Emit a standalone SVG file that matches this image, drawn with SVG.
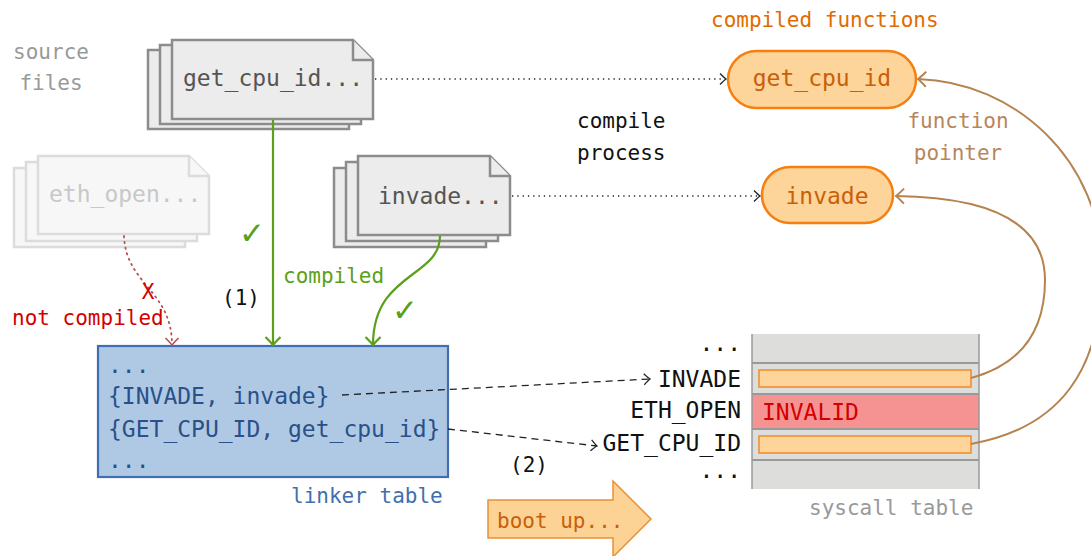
<svg xmlns="http://www.w3.org/2000/svg" width="1091" height="556" viewBox="0 0 1091 556">
  <style>
    text { font-family: "DejaVu Sans Mono", "Liberation Mono", monospace; }
    .big { font-size: 23px; }
    .small { font-size: 21px; }
    .tick { font-family: "DejaVu Sans", sans-serif; font-size: 31px; fill: #5b9f1a; }
    .sheet { fill: #ececec; stroke: #8c8c8c; stroke-width: 2.5; stroke-linejoin: miter; }
    .sheet-faint { fill: #f7f7f7; stroke: #dcdcdc; stroke-width: 2.5; }
    .pill { fill: #fdd49a; stroke: #f57f0f; stroke-width: 2.5; }
    .slot { fill: #fdd49a; stroke: #f08a2a; stroke-width: 1.5; }
    .dotted { fill: none; stroke: #222; stroke-width: 1.3; stroke-dasharray: 1.3 4; }
    .dashed { fill: none; stroke: #222; stroke-width: 1.3; stroke-dasharray: 7 5; }
    .green { fill: none; stroke: #5b9f1a; stroke-width: 2.2; }
    .brown { fill: none; stroke: #b5834f; stroke-width: 2; }
  </style>
  <defs>
    <marker id="tip-black" markerUnits="userSpaceOnUse" markerWidth="14" markerHeight="14" refX="0" refY="0" viewBox="-8 -7 10 14" orient="auto">
      <path d="M-6,-5.5 Q-1.5,-1 0,0 Q-1.5,1 -6,5.5" fill="none" stroke="#222" stroke-width="1.3"/>
    </marker>
    <marker id="tip-green" markerUnits="userSpaceOnUse" markerWidth="18" markerHeight="18" refX="0" refY="0" viewBox="-10 -9 12 18" orient="auto">
      <path d="M-8,-7.5 Q-2,-1.5 0,0 Q-2,1.5 -8,7.5" fill="none" stroke="#5b9f1a" stroke-width="2.2"/>
    </marker>
    <marker id="tip-red" markerUnits="userSpaceOnUse" markerWidth="18" markerHeight="18" refX="0" refY="0" viewBox="-10 -9 12 18" orient="auto">
      <path d="M-7,-6.5 Q-2,-1.5 0,0 Q-2,1.5 -7,6.5" fill="none" stroke="#b85050" stroke-width="1.6"/>
    </marker>
    <marker id="tip-brown" markerUnits="userSpaceOnUse" markerWidth="18" markerHeight="18" refX="0" refY="0" viewBox="-10 -9 12 18" orient="auto">
      <path d="M-8,-7.5 Q-2,-1.5 0,0 Q-2,1.5 -8,7.5" fill="none" stroke="#b5834f" stroke-width="2"/>
    </marker>
  </defs>

  <!-- side captions -->
  <text class="small" x="51" y="59" text-anchor="middle" fill="#999">source</text>
  <text class="small" x="51" y="90" text-anchor="middle" fill="#999">files</text>
  <text class="small" x="577" y="128" fill="#111">compile</text>
  <text class="small" x="577" y="160" fill="#111">process</text>
  <text class="small" x="711" y="27" fill="#e06c00">compiled functions</text>
  <text class="small" x="958" y="128" text-anchor="middle" fill="#b8865a">function</text>
  <text class="small" x="958" y="160" text-anchor="middle" fill="#b8865a">pointer</text>

  <!-- source file: get_cpu_id -->
  <g id="src-get-cpu-id">
    <path class="sheet" d="M148,50 H329 L349,70 V129 H148 Z"/>
    <path class="sheet" d="M160,45 H341 L361,65 V124 H160 Z"/>
    <path class="sheet" d="M172,40 H353 L373,60 V119 H172 Z"/>
    <path class="sheet" d="M353,40 V60 H373" fill="none"/>
    <text class="big" x="183" y="86" fill="#555">get_cpu_id...</text>
  </g>

  <!-- source file: eth_open (not compiled) -->
  <g id="src-eth-open">
    <path class="sheet-faint" d="M14,168 H165 L185,188 V247 H14 Z"/>
    <path class="sheet-faint" d="M26,162 H177 L197,182 V241 H26 Z"/>
    <path class="sheet-faint" d="M38,156 H189 L209,176 V234 H38 Z"/>
    <path class="sheet-faint" d="M189,156 V176 H209" fill="none"/>
    <text class="big" x="49" y="202" fill="#c8c8c8">eth_open...</text>
  </g>

  <!-- source file: invade -->
  <g id="src-invade">
    <path class="sheet" d="M334,168 H466 L486,188 V247 H334 Z"/>
    <path class="sheet" d="M346,162 H478 L498,182 V241 H346 Z"/>
    <path class="sheet" d="M358,156 H490 L510,176 V235 H358 Z"/>
    <path class="sheet" d="M490,156 V176 H510" fill="none"/>
    <text class="big" x="378" y="204" fill="#555">invade...</text>
  </g>

  <!-- compiled functions -->
  <g id="fn-get-cpu-id">
    <rect class="pill" x="728" y="51" width="188" height="57" rx="28.5"/>
    <text class="big" x="822" y="86" text-anchor="middle" fill="#c8600a">get_cpu_id</text>
  </g>
  <g id="fn-invade">
    <rect class="pill" x="762" y="167" width="131" height="56" rx="28"/>
    <text class="big" x="827" y="204" text-anchor="middle" fill="#c8600a">invade</text>
  </g>

  <!-- linker table -->
  <g id="linker-table">
    <rect x="98" y="346" width="350" height="131" fill="#afc9e5" stroke="#3f6fb0" stroke-width="2.2"/>
    <text class="big" x="108" y="373" fill="#2a5089">...</text>
    <text class="big" x="108" y="404" fill="#2a5089">{INVADE, invade}</text>
    <text class="big" x="108" y="437" fill="#2a5089">{GET_CPU_ID, get_cpu_id}</text>
    <text class="big" x="108" y="468" fill="#2a5089">...</text>
    <text class="small" x="291" y="503" fill="#3f6fb0">linker table</text>
  </g>

  <!-- syscall table -->
  <g id="syscall-table">
    <rect x="752" y="334" width="227" height="155" fill="#dddedb"/>
    <rect x="752" y="394" width="227" height="35" fill="#f59393"/>
    <path d="M752,334 V489 M979,334 V489" stroke="#999" stroke-width="1.5" fill="none"/>
    <path d="M752,363 H979 M752,394 H979 M752,429 H979 M752,460 H979" stroke="#999" stroke-width="2" fill="none"/>
    <rect class="slot" x="759" y="370" width="212" height="17"/>
    <rect class="slot" x="759" y="436" width="212" height="17"/>
    <text class="big" x="762" y="420" fill="#d40000">INVALID</text>
    <text class="big" x="741" y="351" text-anchor="end" fill="#111">...</text>
    <text class="big" x="741" y="387" text-anchor="end" fill="#111">INVADE</text>
    <text class="big" x="741" y="418" text-anchor="end" fill="#111">ETH_OPEN</text>
    <text class="big" x="741" y="451" text-anchor="end" fill="#111">GET_CPU_ID</text>
    <text class="big" x="741" y="478" text-anchor="end" fill="#111">...</text>
    <text class="small" x="809" y="515" fill="#999">syscall table</text>
  </g>

  <!-- boot up arrow -->
  <g id="boot-up">
    <path d="M488,500 H613 V481 L651,519 L613,557 V538 H488 Z" fill="#fcd295" stroke="#e8913a" stroke-width="1.5"/>
    <text class="small" x="497" y="528" fill="#c8600a">boot up...</text>
  </g>

  <!-- connectors -->
  <g id="connectors">
    <path class="dotted" d="M375,79 H726" marker-end="url(#tip-black)"/>
    <path class="dotted" d="M512,196 H760" marker-end="url(#tip-black)"/>
    <path class="green" d="M273,120 V345" marker-end="url(#tip-green)"/>
    <path class="green" d="M440,236 C440,278 373,272 373,345" marker-end="url(#tip-green)"/>
    <path d="M124,236 C126,285 172,290 172,345" fill="none" stroke="#b85050" stroke-width="1.8" stroke-dasharray="1.3 4.5" stroke-linecap="round" marker-end="url(#tip-red)"/>
    <path class="dashed" d="M342,395 L650,379" marker-end="url(#tip-black)"/>
    <path class="dashed" d="M448,429 L597,446" marker-end="url(#tip-black)"/>
    <path class="brown" d="M971,378 C1030,362 1045,320 1045,280 C1045,215 975,197 896,196" marker-end="url(#tip-brown)"/>
    <path class="brown" d="M971,444 C1060,428 1102,370 1102,270 C1102,160 1015,82 918,79" marker-end="url(#tip-brown)"/>
  </g>

  <!-- connector labels -->
  <text class="tick" x="252" y="244" text-anchor="middle">✓</text>
  <text class="tick" x="405" y="321" text-anchor="middle">✓</text>
  <text class="small" x="283" y="283" fill="#5b9f1a">compiled</text>
  <text class="small" x="222" y="305" fill="#111">(1)</text>
  <text class="small" x="510" y="472" fill="#111">(2)</text>
  <text class="small" x="148" y="299" text-anchor="middle" fill="#d40000">X</text>
  <text class="small" x="12" y="325" fill="#d40000">not compiled</text>
</svg>
